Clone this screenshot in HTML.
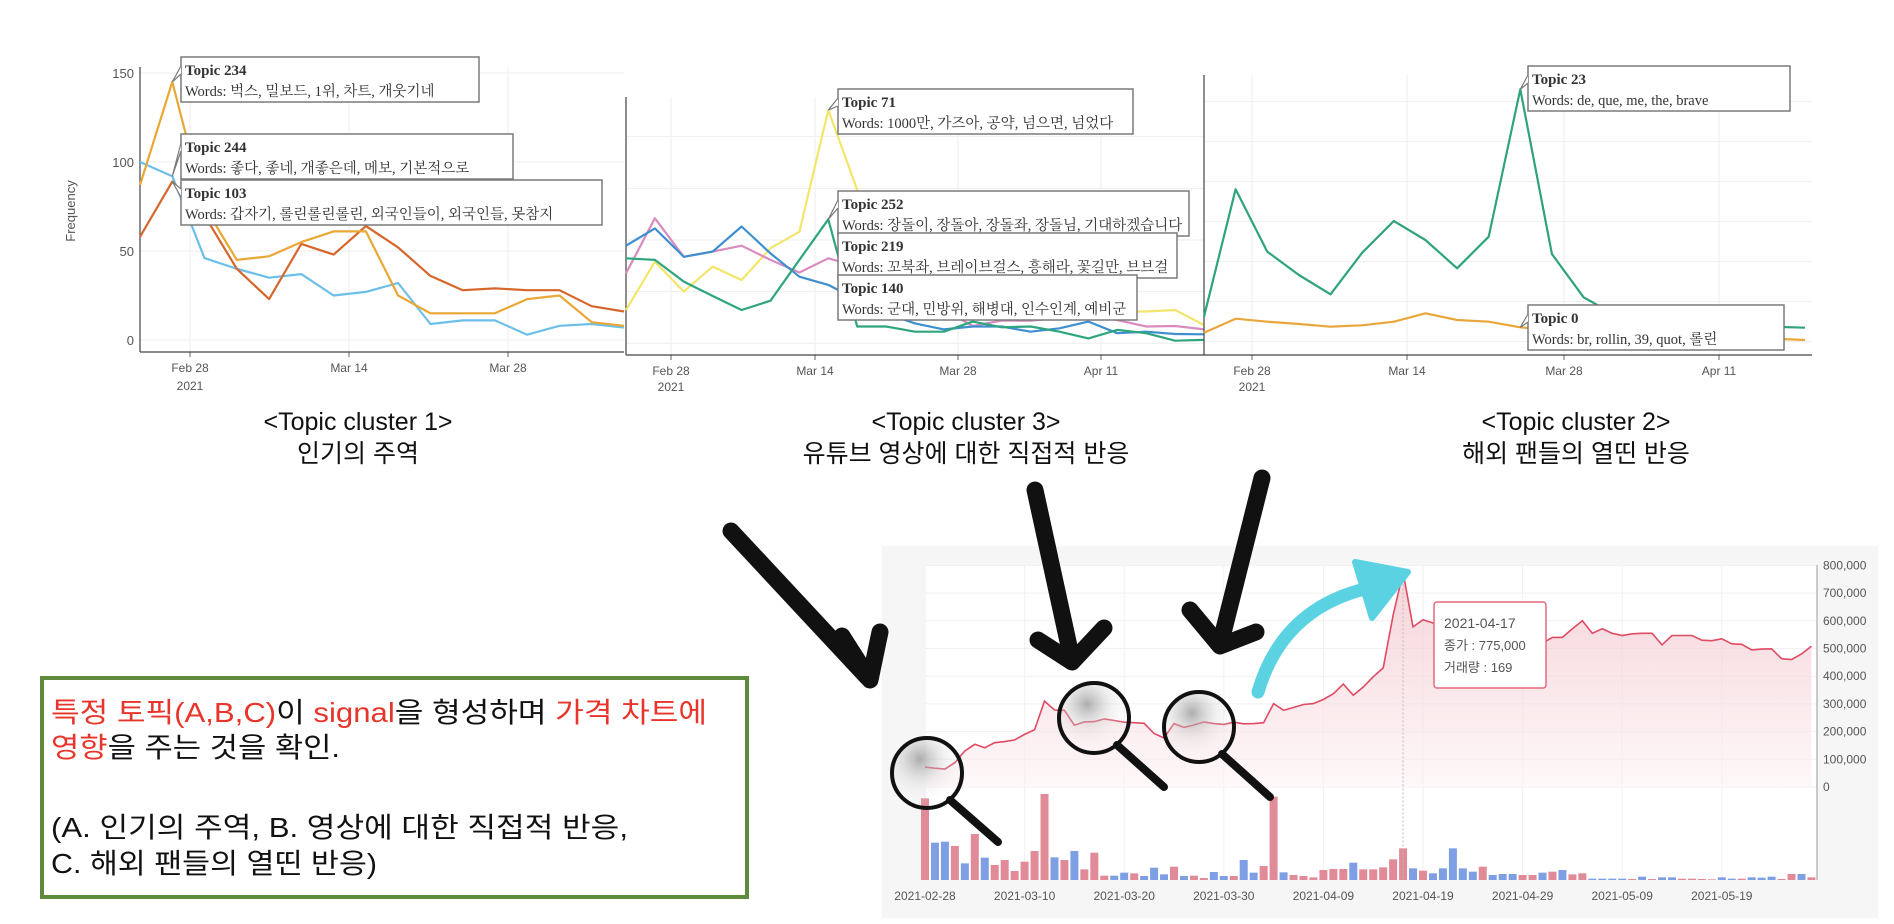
<!DOCTYPE html>
<html><head><meta charset="utf-8">
<style>
html,body{margin:0;padding:0;background:#fff;}
svg{display:block;}
.kr{font-family:"Liberation Sans","Noto Sans CJK KR",sans-serif;}
.ser{font-family:"Liberation Serif","Noto Serif CJK SC","Noto Sans CJK KR",serif;}
</style></head>
<body>
<svg id="root" width="1894" height="924" viewBox="0 0 1894 924" xmlns="http://www.w3.org/2000/svg">
<defs>
<linearGradient id="pf" x1="0" y1="0" x2="0" y2="1">
<stop offset="0" stop-color="#f0b8c1"/><stop offset="1" stop-color="#fdf3f5"/>
</linearGradient>
<radialGradient id="lens" cx="0.4" cy="0.3" r="0.7">
<stop offset="0" stop-color="#9a9a9a" stop-opacity="0.8"/><stop offset="0.5" stop-color="#cfcfcf" stop-opacity="0.3"/><stop offset="1" stop-color="#fff" stop-opacity="0"/>
</radialGradient>
</defs>
<g id="c1"></g>
<g id="c2"></g>
<g id="c3"></g>
<g id="captions" class="kr" font-size="25" fill="#111" text-anchor="middle">
<text x="358" y="430">&lt;Topic cluster 1&gt;</text>
<text x="358" y="462">인기의 주역</text>
<text x="966" y="430">&lt;Topic cluster 3&gt;</text>
<text x="966" y="462">유튜브 영상에 대한 직접적 반응</text>
<text x="1576" y="430">&lt;Topic cluster 2&gt;</text>
<text x="1576" y="462">해외 팬들의 열띤 반응</text>
</g>
<g id="price"></g>
<g id="overlay">
<g stroke="#111" stroke-width="17" stroke-linecap="round" stroke-linejoin="round" fill="none">
<path d="M731,531 L868,678 M842,636 L870,680 L880,632"/>
<path d="M1035,490 L1072,660 M1038,640 L1072,662 L1104,628"/>
<path d="M1262,478 L1220,645 M1190,610 L1220,646 L1256,632"/>
</g>
<path d="M1258,692 Q1285,600 1385,585" stroke="#5bd2e2" stroke-width="13" fill="none" stroke-linecap="round"/>
<path d="M1355,562 L1408,572 L1372,618 Z" fill="#5bd2e2" stroke="#5bd2e2" stroke-width="6" stroke-linejoin="round"/>
<g><circle cx="927" cy="773" r="35" fill="url(#lens)" stroke="#111" stroke-width="4"/><line x1="950" y1="800" x2="998" y2="842" stroke="#111" stroke-width="8" stroke-linecap="round"/></g>
<g><circle cx="1094" cy="718" r="35" fill="url(#lens)" stroke="#111" stroke-width="4"/><line x1="1117" y1="745" x2="1164" y2="787" stroke="#111" stroke-width="8" stroke-linecap="round"/></g>
<g><circle cx="1199" cy="727" r="35" fill="url(#lens)" stroke="#111" stroke-width="4"/><line x1="1222" y1="754" x2="1270" y2="797" stroke="#111" stroke-width="8" stroke-linecap="round"/></g>
</g>
<g id="note" class="kr">
<rect x="42" y="678" width="705" height="219" fill="#fff" stroke="#5e8a3e" stroke-width="4"/>
<text x="51" y="722" font-size="28" textLength="656" lengthAdjust="spacingAndGlyphs"><tspan fill="#e8352b">특정 토픽(A,B,C)</tspan><tspan fill="#111">이 </tspan><tspan fill="#e8352b">signal</tspan><tspan fill="#111">을 형성하며 </tspan><tspan fill="#e8352b">가격 차트에</tspan></text>
<text x="51" y="757" font-size="28" textLength="289" lengthAdjust="spacingAndGlyphs"><tspan fill="#e8352b">영향</tspan><tspan fill="#111">을 주는 것을 확인.</tspan></text>
<text x="51" y="837" font-size="28" fill="#111" textLength="577" lengthAdjust="spacingAndGlyphs">(A. 인기의 주역,  B. 영상에 대한 직접적 반응,</text>
<text x="51" y="873" font-size="28" fill="#111" textLength="326" lengthAdjust="spacingAndGlyphs">C. 해외 팬들의 열띤 반응)</text>
</g>
</svg>
<script>
// ---------- data ----------
const c1Dates = ["Feb 28","Mar 14","Mar 28"];
const c1Topic234 = [87,145,75,45,47,55,61,61,25,15,15,15,23,25,10,8];
const c1Topic244 = [58,89,70,40,23,54,48,64,52,36,28,29,28,28,19,16];
const c1Topic103 = [100,92,46,40,35,37,25,27,32,9,11,11,3,8,9,7];
const c1YTicks = [0,50,100,150];

const c2Dates = ["Feb 28","Mar 14","Mar 28","Apr 11"];
const c2Topic71 = [12.9,31.6,20,29.7,24.5,36.8,43.2,90.3,59.4,29.7,19.4,11.6,12.9,10.3,9,11.6,12.9,12.3,12.3,12.9,7.1];
const c2Topic252 = [32.9,32.3,23.9,18.3,12.9,16.5,32.3,48,6.5,6.5,4.5,4.5,8.4,6.2,6.5,4.5,1.9,5.2,3.9,1,1.3];
const c2Topic219 = [27.1,48.4,33.5,35.5,37.8,32.3,27.4,32.9,29.7,19.4,14.2,12.9,6.7,8.8,8.8,9.7,12.9,9,6.5,6.7,5.4];
const c2Topic140 = [37.8,44.5,33.5,35.5,45.2,34.8,25.8,22.6,16.8,11.6,7.7,5.4,6.5,6.5,4.5,5.8,8.4,3.9,4.5,3.6,3.5];

const c3Dates = ["Feb 28","Mar 14","Mar 28","Apr 11"];
const c3Topic23 = [18.75,114.25,67.5,50,35.5,66.75,90.5,76.25,55,78.75,189.25,65.75,33.25,20,13.75,12.5,12,11.75,11.25,10.5];
const c3Topic0 = [6.75,17.25,15,13.25,11.25,12.25,15,21.25,16.25,15,10.75,8.75,7.5,6.75,5.75,5,4.25,3.25,2.25,1.25];

const priceDates = ["2021-02-28","2021-03-10","2021-03-20","2021-03-30","2021-04-09","2021-04-19","2021-04-29","2021-05-09","2021-05-19"];
const priceClose = [72,68,65,88,130,154,142,160,164,170,190,207,310,278,277,223,235,236,246,240,234,232,230,193,177,229,215,224,235,229,226,234,228,229,232,301,277,287,298,301,316,337,372,331,361,398,430,620,775,578,604,592,588,560,525,500,485,480,495,490,520,515,520,540,540,571,600,555,571,555,547,553,555,555,513,547,547,547,530,528,535,517,515,495,498,499,463,460,480,508];
const volume = [245,112,115,102,50,138,67,45,60,27,55,87,258,68,60,87,32,82,13,13,22,20,12,37,17,40,12,13,6,24,12,12,60,22,42,250,23,15,12,8,30,33,33,52,32,32,38,62,95,35,28,20,35,95,35,25,40,15,18,18,15,15,22,25,30,17,20,4,4,4,4,3,10,3,8,8,4,4,3,2,8,4,4,8,7,10,3,18,18,8];
const volumeDir = ["P","B","B","P","B","P","B","P","P","P","P","P","P","B","P","B","P","P","P","B","B","P","B","B","B","P","B","P","P","B","B","P","B","B","P","P","B","P","P","P","P","P","P","B","P","P","P","P","P","B","P","B","B","B","B","B","P","B","B","B","P","P","B","P","B","P","P","B","B","B","B","P","B","P","B","B","P","P","P","P","B","B","P","B","B","B","P","P","B","P"];
const priceYTicks = [0,100000,200000,300000,400000,500000,600000,700000,800000];

// ---------- helpers ----------
const NS = "http://www.w3.org/2000/svg";
function mk(tag, attrs, parent){
  const e = document.createElementNS(NS, tag);
  for (const k in attrs) e.setAttribute(k, attrs[k]);
  if (parent) parent.appendChild(e);
  return e;
}
function line(parent, vals, xs, ys, color, name){
  const d = vals.map((v,i)=>(i?"L":"M")+xs(i).toFixed(1)+","+ys(v).toFixed(1)).join(" ");
  const p = mk("path",{d:d,fill:"none",stroke:color,"stroke-width":2.2,"stroke-linejoin":"round"},parent);
  
  
  return p;
}
function hover(parent, x, y, w, title, words, name, px, py){
  const g = mk("g",{},parent);
  
  
  mk("rect",{x:x,y:y,width:w,height:45,fill:"#fff",stroke:"#7a7a7a","stroke-width":1.5},g);
  if (px!==undefined) mk("path",{d:`M${x},${y+9} L${px},${py} L${x},${y+17}`,fill:"#fff",stroke:"#7a7a7a","stroke-width":1.2},g);
  const t1 = mk("text",{x:x+4,y:y+18,"font-size":15,"font-weight":"bold",fill:"#333",class:"ser"},g);
  t1.textContent = title;
  const t2 = mk("text",{x:x+4,y:y+39,"font-size":14.5,fill:"#333",class:"ser"},g);
  t2.textContent = "Words: "+words;
}
function tickText(parent, x, y, txt, anchor, size, name){
  const t = mk("text",{x:x,y:y,"font-size":size||13,fill:"#555","text-anchor":anchor||"middle",class:"kr"},parent);
  t.textContent = txt;
  
  
  return t;
}

// ---------- chart 1 ----------
(function(){
  const g = document.getElementById("c1");
  const x0=140, x1=624, yb=340;
  const xs = i => x0 + i*(x1-x0)/(c1Topic234.length-1);
  const ys = v => yb - v*1.78;
  const dateX = [190,349,508];
  c1YTicks.forEach(v=>{ mk("line",{x1:x0,x2:x1,y1:ys(v),y2:ys(v),stroke:"#eee"},g); tickText(g,x0-6,ys(v)+5,String(v),"end",13,"y-tick-"+v); });
  dateX.forEach((x,i)=>{ mk("line",{x1:x,x2:x,y1:67,y2:352,stroke:"#eee"},g); mk("line",{x1:x,x2:x,y1:352,y2:357,stroke:"#666"},g); tickText(g,x,372,c1Dates[i],"middle",12,"x-tick-"+i); });
  tickText(g,190,390,"2021","middle",12,"x-year-label");
  mk("line",{x1:x0,x2:x0,y1:67,y2:352,stroke:"#444","stroke-width":1.2},g);
  mk("line",{x1:x0,x2:x1,y1:352,y2:352,stroke:"#444","stroke-width":1.2},g);
  const yl = tickText(g,75,211,"Frequency","middle",13,"y-axis-title");
  yl.setAttribute("transform","rotate(-90 75 211)");
  line(g,c1Topic103,xs,ys,"#6cbfe9","topic-103-line");
  line(g,c1Topic244,xs,ys,"#d6662b","topic-244-line");
  line(g,c1Topic234,xs,ys,"#e9a735","topic-234-line");
  hover(g,181,57,298,"Topic 234","벅스, 밀보드, 1위, 차트, 개웃기네","topic-234-label",xs(1),ys(c1Topic234[1]));
  hover(g,181,134,332,"Topic 244","좋다, 좋네, 개좋은데, 메보, 기본적으로","topic-244-label",xs(1),ys(c1Topic103[1]));
  hover(g,181,180,421,"Topic 103","갑자기, 롤린롤린롤린, 외국인들이, 외국인들, 못참지","topic-103-label",xs(1),ys(c1Topic244[1]));
})();

// ---------- chart 2 ----------
(function(){
  const g = document.getElementById("c2");
  const x0=626, x1=1204;
  const xs = i => x0 + i*(x1-x0)/(c2Topic71.length-1);
  const ys = v => 343.3 - v*2.583;
  [0,20,40,60,80].forEach(v=>mk("line",{x1:x0,x2:x1,y1:ys(v),y2:ys(v),stroke:"#eee"},g));
  const dateX=[671,815,958,1101];
  dateX.forEach((x,i)=>{ mk("line",{x1:x,x2:x,y1:97,y2:355,stroke:"#eee"},g); mk("line",{x1:x,x2:x,y1:355,y2:360,stroke:"#666"},g); tickText(g,x,375,c2Dates[i],"middle",12,"x-tick-"+i); });
  tickText(g,671,391,"2021","middle",12,"x-year-label");
  mk("line",{x1:x0,x2:x0,y1:97,y2:355,stroke:"#444","stroke-width":1.2},g);
  mk("line",{x1:x0,x2:x1,y1:355,y2:355,stroke:"#444","stroke-width":1.2},g);
  line(g,c2Topic71,xs,ys,"#f2e66a","topic-71-line");
  line(g,c2Topic219,xs,ys,"#d98bbf","topic-219-line");
  line(g,c2Topic140,xs,ys,"#3e8fd0","topic-140-line");
  line(g,c2Topic252,xs,ys,"#2ea57d","topic-252-line");
  hover(g,838,89,295,"Topic 71","1000만, 가즈아, 공약, 넘으면, 넘었다","topic-71-label",xs(7),ys(c2Topic71[7]));
  hover(g,838,191,351,"Topic 252","장돌이, 장돌아, 장돌좌, 장돌님, 기대하겠습니다","topic-252-label",xs(7),ys(c2Topic252[7]));
  hover(g,838,233,339,"Topic 219","꼬북좌, 브레이브걸스, 흥해라, 꽃길만, 브브걸","topic-219-label");
  hover(g,838,275,299,"Topic 140","군대, 민방위, 해병대, 인수인계, 예비군","topic-140-label");
})();

// ---------- chart 3 ----------
(function(){
  const g = document.getElementById("c3");
  const x0=1204, x1=1805;
  const xs = i => x0 + i*(x1-x0)/(c3Topic23.length-1);
  const ys = v => 60 + (845 - 4*v)/3;
  [0,30,60,90,120,150,180].forEach(v=>mk("line",{x1:x0,x2:1812,y1:ys(v),y2:ys(v),stroke:"#eee"},g));
  const dateX=[1252,1407,1564,1719];
  dateX.forEach((x,i)=>{ mk("line",{x1:x,x2:x,y1:75,y2:355,stroke:"#eee"},g); mk("line",{x1:x,x2:x,y1:355,y2:360,stroke:"#666"},g); tickText(g,x,375,c3Dates[i],"middle",12,"x-tick-"+i); });
  tickText(g,1252,391,"2021","middle",12,"x-year-label");
  mk("line",{x1:x0,x2:x0,y1:75,y2:355,stroke:"#444","stroke-width":1.2},g);
  mk("line",{x1:x0,x2:1812,y1:355,y2:355,stroke:"#444","stroke-width":1.2},g);
  line(g,c3Topic0,xs,ys,"#eaa63a","topic-0-line");
  line(g,c3Topic23,xs,ys,"#2fa37c","topic-23-line");
  hover(g,1528,66,262,"Topic 23","de, que, me, the, brave","topic-23-label",xs(10),ys(c3Topic23[10]));
  hover(g,1528,305,256,"Topic 0","br, rollin, 39, quot, 롤린","topic-0-label",xs(10),ys(c3Topic0[10]));
})();

// ---------- price chart ----------
(function(){
  const g = document.getElementById("price");
  mk("rect",{x:882,y:546,width:996,height:372,fill:"#f6f6f6"},g);
  mk("rect",{x:925,y:565,width:892,height:315,fill:"#fff"},g);
  const x0=925, dx=9.96, yb=787, vb=880;
  const xs = i => x0 + i*dx;
  const ys = p => yb - p*1000/100000*27.7;
  const yt = p => yb - p/100000*27.7;
  priceYTicks.forEach(p=>{ mk("line",{x1:x0,x2:1817,y1:yt(p),y2:yt(p),stroke:"#f1f1f1"},g); tickText(g,1823,yt(p)+4,p===0?"0":p.toLocaleString("en-US"),"start",12,"price-tick-"+p); });
  priceDates.forEach((d,i)=>{ const x=xs(i*10); mk("line",{x1:x,x2:x,y1:565,y2:880,stroke:"#f1f1f1"},g); tickText(g,x,900,d,"middle",12,"date-tick-"+i); });
  mk("line",{x1:1817,x2:1817,y1:565,y2:880,stroke:"#999"},g);
  const pts = priceClose.map((v,i)=>xs(i).toFixed(1)+","+ys(v).toFixed(1));
  const area = mk("path",{d:"M"+xs(0)+","+yb+" L"+pts.join(" L")+" L"+xs(priceClose.length-1)+","+yb+" Z",fill:"url(#pf)",opacity:0.6},g);
  
  
  volume.forEach((v,i)=>{
    const h = v/3;
    const b = mk("rect",{x:xs(i)-4,y:vb-h,width:8,height:h,fill:volumeDir[i]==="P"?"#e08b97":"#7e9fe3"},g);
    
    
  });
  const pl = mk("path",{d:"M"+pts.join(" L"),fill:"none",stroke:"#e04a62","stroke-width":1.6},g);
  
  
  const pk = 48;
  mk("line",{x1:xs(pk),x2:xs(pk),y1:ys(priceClose[pk]),y2:vb,stroke:"#bbb","stroke-dasharray":"2,2"},g);
  const mkr = mk("circle",{cx:xs(pk),cy:ys(priceClose[pk]),r:3,fill:"#fff",stroke:"#e04a62","stroke-width":1.5},g);
  
  
  const tg = mk("g",{},g);
  
  
  mk("rect",{x:1434,y:602,width:112,height:86,rx:3,fill:"#fff",stroke:"#e46a7c","stroke-width":1.5},tg);
  tickText(tg,1444,628,"2021-04-17","start",14,"tooltip-date");
  tickText(tg,1444,650,"종가 : 775,000","start",13,"tooltip-close");
  tickText(tg,1444,672,"거래량 : 169","start",13,"tooltip-volume");
})();
</script>
</body></html>
